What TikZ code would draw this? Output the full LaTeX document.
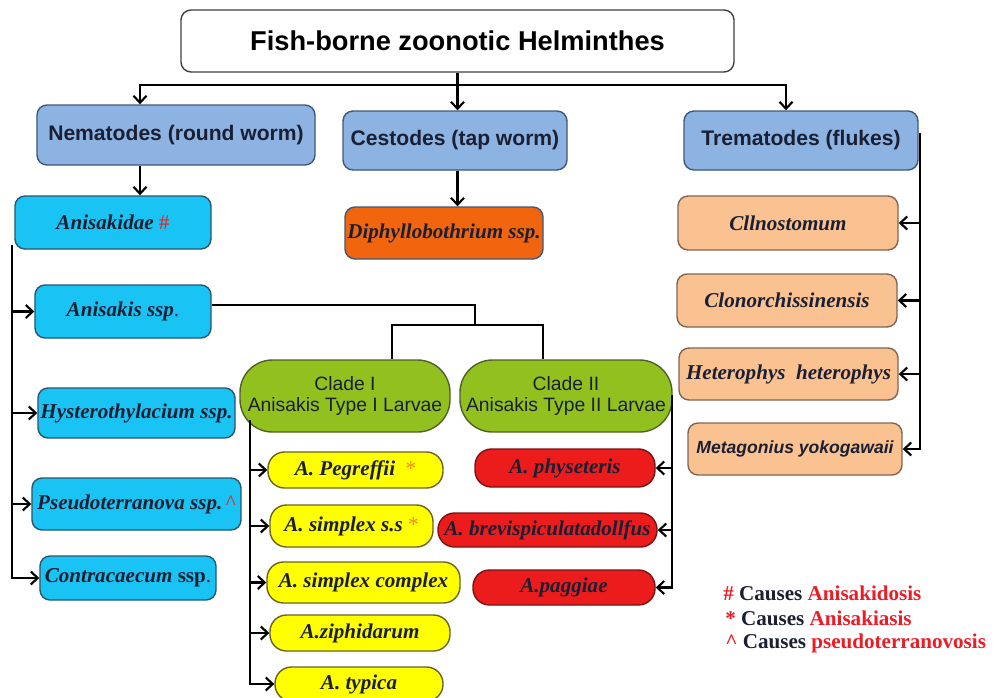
\documentclass[tikz,border=0pt]{standalone}
\usepackage{fontspec}
\setmainfont{Liberation Serif}
\setsansfont{Liberation Sans}
\usepackage{xcolor}
\usetikzlibrary{arrows.meta}

\definecolor{txt}{HTML}{1B1F33}
\definecolor{headblue}{HTML}{8DB3E2}
\definecolor{headline}{HTML}{3F5878}
\definecolor{cyanbox}{HTML}{19C3F3}
\definecolor{cyanline}{HTML}{2A5670}
\definecolor{cestorange}{HTML}{F0650E}
\definecolor{cladegreen}{HTML}{92C01F}
\definecolor{cladeline}{HTML}{4F6228}
\definecolor{larvayellow}{HTML}{FFFF00}
\definecolor{yellowline}{HTML}{6B6420}
\definecolor{larvared}{HTML}{EC1C1C}
\definecolor{redline}{HTML}{7A1212}
\definecolor{flukepeach}{HTML}{FAC191}
\definecolor{peachline}{HTML}{7F6654}
\definecolor{legred}{HTML}{ED1C24}
\definecolor{starorange}{HTML}{F28A1E}

\newcommand{\redmark}[1]{\textcolor{legred}{\upshape\mdseries #1}}
\newcommand{\orstar}{\textcolor{starorange}{\upshape\mdseries *}}

\begin{document}
\begin{tikzpicture}[x=0.2mm,y=-0.2mm,
	>={Straight Barb[length=1.4mm,width=2.6mm]},
	link/.style={->,line width=1.2pt},
	plain/.style={line width=1.2pt},
	box/.style={draw,line width=0.8pt,rounded corners=2mm,inner sep=0pt,align=center,text=txt},
	head/.style={box,fill=headblue,draw=headline,font=\fontsize{12}{14}\selectfont\sffamily\bfseries},
	genus/.style={box,fill=cyanbox,draw=cyanline,font=\fontsize{12}{14}\selectfont\bfseries\itshape},
	tape/.style={box,fill=cestorange,draw=headline,font=\fontsize{12}{14}\selectfont\bfseries\itshape},
	clade/.style={box,fill=cladegreen,draw=cladeline,rounded corners=6.5mm,minimum height=14.4mm,font=\fontsize{11}{12.5}\selectfont\sffamily},
	typeone/.style={box,fill=larvayellow,draw=yellowline,rounded corners=3.3mm,font=\fontsize{12}{14}\selectfont\bfseries\itshape},
	typetwo/.style={box,fill=larvared,draw=redline,rounded corners=3.3mm,font=\fontsize{12}{14}\selectfont\bfseries\itshape},
	fluke/.style={box,fill=flukepeach,draw=peachline,minimum width=44mm,font=\fontsize{12}{14}\selectfont\bfseries\itshape},
	legend/.style={anchor=west,inner sep=0pt,text=txt,font=\fontsize{12}{14}\selectfont\bfseries}]
	
	\useasboundingbox (0,0) rectangle (1000,698);
	
	% Title and the three groups
	\node[box,fill=white,draw=black!75,minimum width=110.6mm,minimum height=12.4mm,
		font=\fontsize{15.5}{18}\selectfont\sffamily\bfseries,text=black] (title) at (457.5,41) {Fish-borne zoonotic Helminthes};
	\node[head,minimum width=55.6mm,minimum height=12mm] (nema) at (176,135) {Nematodes (round worm)};
	\node[head,minimum width=44.8mm,minimum height=11.8mm] (cest) at (455,140.5) {Cestodes (tap worm)};
	\node[head,minimum width=46.8mm,minimum height=11.8mm] (trem) at (801,140.5) {Trematodes (flukes)};
	
	\coordinate (hub) at (457,85);
	\coordinate (nx) at (140,0);
	\draw[link] (title.south) -- (title.south |- cest.north);
	\draw[link] (hub) -| (nx |- nema.north);
	\draw[link] (hub) -| ([xshift=-3mm]trem.north);
	
	% Nematodes
	\node[genus,minimum width=39.2mm,minimum height=10.6mm] (anisakidae) at (113,222.5) {Anisakidae \redmark{\#}};
	\node[genus,minimum width=35.2mm,minimum height=10.6mm] (anisakis) at (123,311.5) {Anisakis ssp{\upshape\mdseries .}};
	\node[genus,minimum width=39.4mm,minimum height=10mm] (hystero) at (136.5,413) {Hysterothylacium ssp.};
	\node[genus,minimum width=41.8mm,minimum height=10.4mm] (pseudo) at (136.5,504) {Pseudoterranova ssp.\,\redmark{\textasciicircum}};
	\node[genus,minimum width=35.2mm,minimum height=8.8mm] (contra) at (128,578) {Contracaecum {\upshape ssp}{\upshape\mdseries .}};
	
	\draw[link] (nx |- nema.south) -- (nx |- anisakidae.north);
	\coordinate (lbus) at (12,245);
	\draw[link] (lbus) |- (contra.west);
	\foreach \n in {anisakis,hystero,pseudo}
		\draw[link] (lbus |- \n.west) -- (\n.west);
	
	% Cestodes
	\node[tape,minimum width=39.6mm,minimum height=10.4mm] (diphyl) at (444,233) {Diphyllobothrium ssp.};
	\draw[link] (title.south |- cest.south) -- (title.south |- diphyl.north);
	
	% Anisakis clades
	\node[clade,minimum width=42mm] (clade1) at (345,396) {Clade I\\Anisakis Type I Larvae};
	\node[clade,minimum width=42.4mm] (clade2) at (566,396) {Clade II\\Anisakis Type II Larvae};
	
	\coordinate (split) at (475,325);
	\draw[plain] ([yshift=1.3mm]anisakis.east) -| (split);
	\draw[plain] (split) -| ([xshift=9.4mm]clade1.north);
	\draw[plain] (split) -| ([xshift=-4.6mm]clade2.north);
	
	% Type I larvae
	\node[typeone,minimum width=35mm,minimum height=7.2mm] (pegreffii) at (355.5,470) {A. Pegreffii\ \ \orstar};
	\node[typeone,minimum width=32.6mm,minimum height=8.4mm] (simplexss) at (351.5,526) {A. simplex s.s\ \orstar};
	\node[typeone,minimum width=38.6mm,minimum height=8.2mm] (simplexc) at (363.5,582.5) {A. simplex complex};
	\node[typeone,minimum width=36mm,minimum height=7.2mm] (ziphidarum) at (360,633) {A.ziphidarum};
	\node[typeone,minimum width=33.6mm,minimum height=6.8mm] (typica) at (359,684) {A. typica};
	
	\coordinate (c1bus) at (250,420);
	\draw[link] (c1bus) |- (typica.west);
	\foreach \n in {pegreffii,simplexss,simplexc,ziphidarum}
		\draw[link] (c1bus |- \n.west) -- (\n.west);
	
	% Type II larvae
	\node[typetwo,minimum width=36mm,minimum height=7.6mm] (physeteris) at (565,468) {A. physeteris};
	\node[typetwo,minimum width=43.8mm,minimum height=6.8mm] (brevi) at (547.5,530) {A. brevispiculatadollfus};
	\node[typetwo,minimum width=36.4mm,minimum height=7mm] (paggiae) at (564,587.5) {A.paggiae};
	
	\coordinate (c2bus) at (672,395);
	\draw[link] (c2bus) |- (paggiae.east);
	\foreach \n in {physeteris,brevi}
		\draw[link] (c2bus |- \n.east) -- (\n.east);
	
	% Trematodes
	\node[fluke,minimum height=10.8mm] (clln) at (788,223) {Cllnostomum};
	\node[fluke,minimum height=10.6mm] (clon) at (787,300.5) {Clonorchissinensis};
	\node[fluke,minimum width=43.8mm,minimum height=10.4mm] (hetero) at (788.5,374) {Heterophys\ \ heterophys};
	\node[fluke,minimum width=42.8mm,minimum height=10.4mm,font=\fontsize{10}{12}\selectfont\sffamily\bfseries\itshape] (meta) at (795,449) {Metagonius yokogawaii};
	
	\coordinate (tbus) at (920,133);
	\draw[link] (tbus) |- (meta.east);
	\foreach \n in {clln,clon,hetero}
		\draw[link] (tbus |- \n.east) -- (\n.east);
	
	% Legend
	\node[legend] (leg1) at (723,593) {\textcolor{legred}{\#} Causes \textcolor{legred}{Anisakidosis}};
	\node[legend] (leg2) at (725,618) {\textcolor{legred}{*} Causes \textcolor{legred}{Anisakiasis}};
	\node[legend] (leg3) at (725,643) {\textcolor{legred}{\textasciicircum} Causes \textcolor{legred}{pseudoterranovosis}};
	
\end{tikzpicture}
\end{document}
